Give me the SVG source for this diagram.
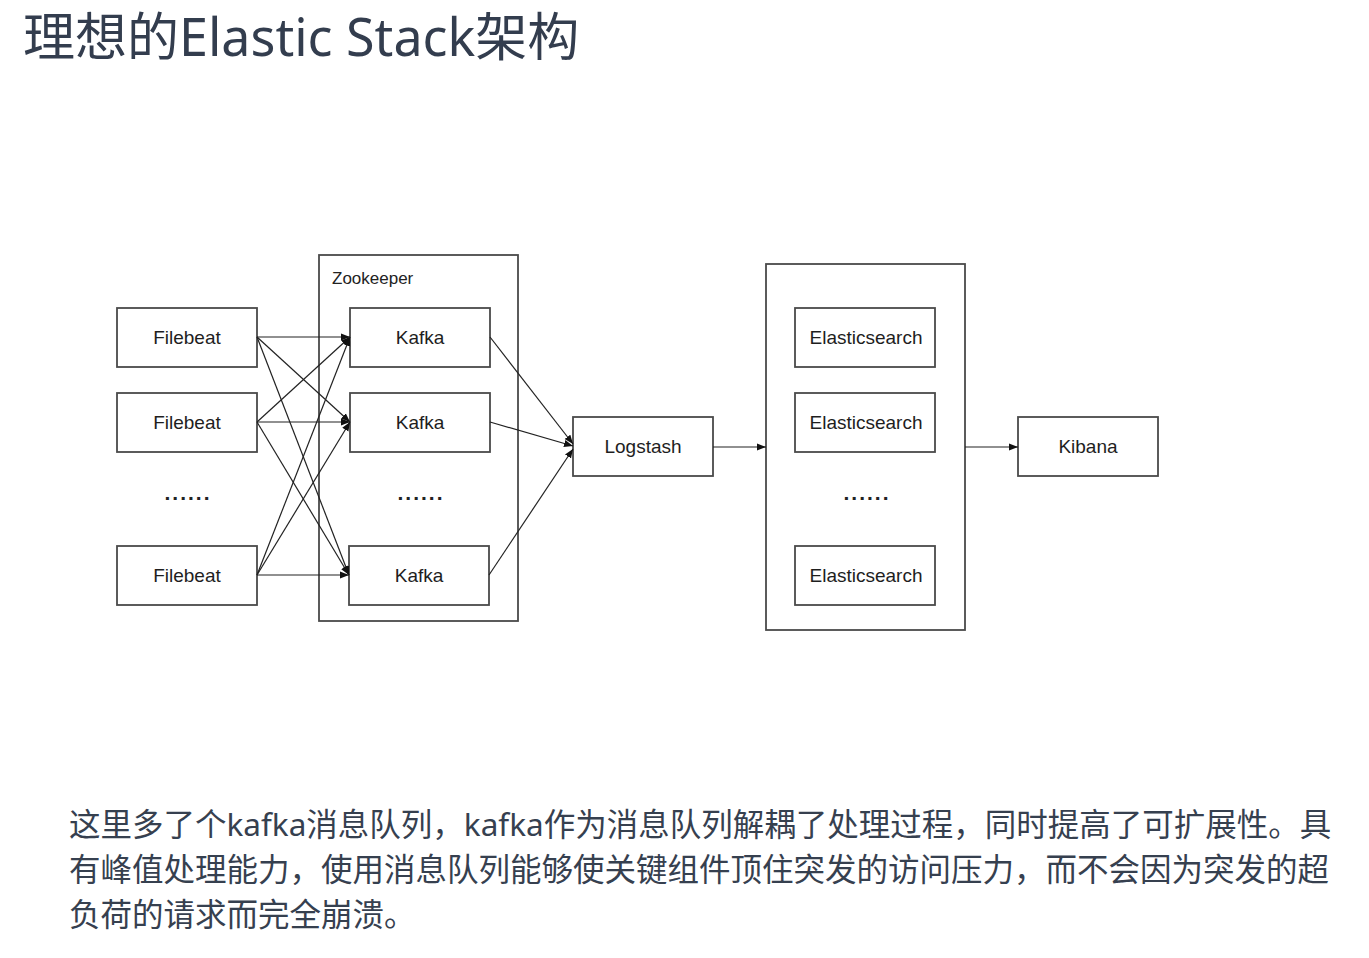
<svg xmlns="http://www.w3.org/2000/svg" width="1369" height="958" viewBox="0 0 1369 958">
<defs>
<style>
.box{fill:#fff;stroke:#4a4a4a;stroke-width:1.8}
.cont{fill:none;stroke:#4a4a4a;stroke-width:1.8}
.lbl{font-family:"Liberation Sans","Noto Sans",sans-serif;font-size:19px;fill:#1e1e1e;text-anchor:middle}
.dots{font-family:"Liberation Sans",sans-serif;font-size:21px;font-weight:bold;fill:#222;text-anchor:middle;letter-spacing:2px}
.conn{stroke:#222;stroke-width:1.2;fill:none;marker-end:url(#ah)}
.title{font-family:"Noto Sans","Noto Sans CJK SC",sans-serif;font-size:52px;fill:#333d4e}
.body{font-family:"Noto Sans","Noto Sans CJK SC",sans-serif;font-size:31.5px;fill:#36404f}
</style>
<marker id="ah" viewBox="0 0 10 10" refX="10" refY="5" markerWidth="9" markerHeight="9" markerUnits="userSpaceOnUse" orient="auto">
<path d="M0,1 L10,5 L0,9 z" fill="#111"/>
</marker>
</defs>
<rect width="1369" height="958" fill="#fff"/>
<text class="title" x="23" y="56">理想的Elastic Stack架构</text>

<g id="zookeeper">
<rect class="cont" x="319" y="255" width="199" height="366"/>
<text x="332" y="284" font-family="Liberation Sans,sans-serif" font-size="17" fill="#222">Zookeeper</text>
</g>
<g id="es-cluster">
<rect class="cont" x="766" y="264" width="199" height="366"/>
</g>

<g id="filebeat1"><rect class="box" x="117" y="308" width="140" height="59"/><text class="lbl" x="187" y="344">Filebeat</text></g>
<g id="filebeat2"><rect class="box" x="117" y="393" width="140" height="59"/><text class="lbl" x="187" y="429">Filebeat</text></g>
<g id="filebeat-dots"><text class="dots" x="188" y="500">......</text></g>
<g id="filebeat3"><rect class="box" x="117" y="546" width="140" height="59"/><text class="lbl" x="187" y="582">Filebeat</text></g>

<g id="kafka1"><rect class="box" x="350" y="308" width="140" height="59"/><text class="lbl" x="420" y="344">Kafka</text></g>
<g id="kafka2"><rect class="box" x="350" y="393" width="140" height="59"/><text class="lbl" x="420" y="429">Kafka</text></g>
<g id="kafka-dots"><text class="dots" x="421" y="500">......</text></g>
<g id="kafka3"><rect class="box" x="349" y="546" width="140" height="59"/><text class="lbl" x="419" y="582">Kafka</text></g>

<g id="logstash"><rect class="box" x="573" y="417" width="140" height="59"/><text class="lbl" x="643" y="453">Logstash</text></g>

<g id="es1"><rect class="box" x="795" y="308" width="140" height="59"/><text class="lbl" x="866" y="344">Elasticsearch</text></g>
<g id="es2"><rect class="box" x="795" y="393" width="140" height="59"/><text class="lbl" x="866" y="429">Elasticsearch</text></g>
<g id="es-dots"><text class="dots" x="867" y="500">......</text></g>
<g id="es3"><rect class="box" x="795" y="546" width="140" height="59"/><text class="lbl" x="866" y="582">Elasticsearch</text></g>

<g id="kibana"><rect class="box" x="1018" y="417" width="140" height="59"/><text class="lbl" x="1088" y="453">Kibana</text></g>

<g id="connectors">
<line class="conn" x1="257" y1="337" x2="350" y2="337"/>
<line class="conn" x1="257" y1="337" x2="350" y2="422"/>
<line class="conn" x1="257" y1="337" x2="349" y2="575"/>
<line class="conn" x1="257" y1="422" x2="350" y2="337"/>
<line class="conn" x1="257" y1="422" x2="350" y2="422"/>
<line class="conn" x1="257" y1="422" x2="349" y2="575"/>
<line class="conn" x1="257" y1="575" x2="350" y2="337"/>
<line class="conn" x1="257" y1="575" x2="350" y2="422"/>
<line class="conn" x1="257" y1="575" x2="349" y2="575"/>
<line class="conn" x1="490" y1="337" x2="573" y2="444"/>
<line class="conn" x1="490" y1="422" x2="573" y2="446"/>
<line class="conn" x1="489" y1="575" x2="573" y2="449"/>
<line class="conn" x1="713" y1="447" x2="766" y2="447"/>
<line class="conn" x1="965" y1="447" x2="1018" y2="447"/>
</g>

<text class="body" x="69" y="836">这里多了个kafka消息队列，kafka作为消息队列解耦了处理过程，同时提高了可扩展性。具</text>
<text class="body" x="69" y="881">有峰值处理能力，使用消息队列能够使关键组件顶住突发的访问压力，而不会因为突发的超</text>
<text class="body" x="69" y="926">负荷的请求而完全崩溃。</text>
</svg>
